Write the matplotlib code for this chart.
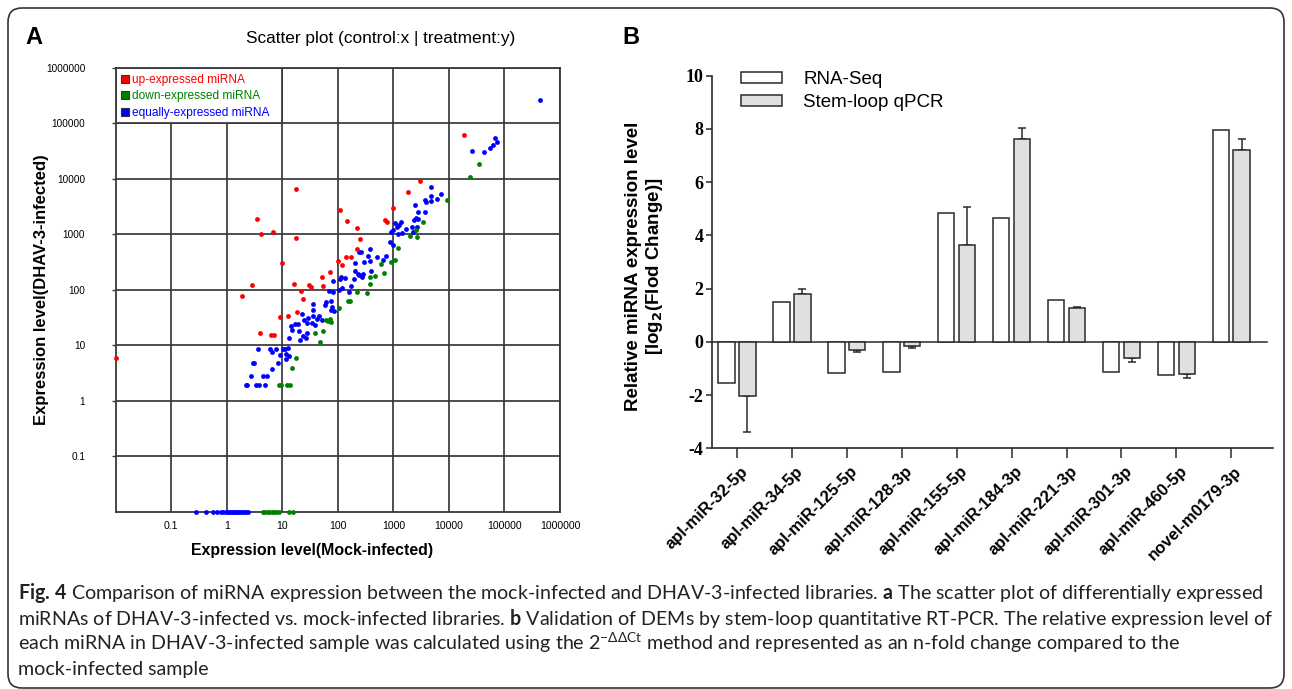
import numpy as np
import matplotlib
matplotlib.use("Agg")
import matplotlib.pyplot as plt
from matplotlib.lines import Line2D
from matplotlib.patches import Rectangle, FancyBboxPatch
from matplotlib.transforms import IdentityTransform, ScaledTranslation
from matplotlib.ticker import NullLocator
from matplotlib import font_manager as fm

# ---------------- data: panel A (scatter, expression levels) ----------------
up_x = [3.5, 4.1, 6.8, 17.6, 17.6, 0, 10,
        2.9, 1.9, 16.4, 18.3, 9.0, 12.6, 4.0, 6.2, 7.2,
        109, 149, 223, 248, 223, 143, 171, 100, 118, 73, 52, 54, 30.5, 33, 21.6, 23.8,
        18600, 2970, 1830, 986, 718, 759]
up_y = [1880, 1030, 1090, 6600, 870, 5.8, 305,
        121, 79, 125, 40, 32, 34, 16.7, 15.3, 15.3,
        2810, 1710, 1320, 836, 545, 397, 392, 336, 281, 208, 169, 118, 120, 112, 97, 68,
        62500, 9330, 5920, 3010, 1810, 1690]

down_x = [61, 66, 73, 76, 54, 38.6, 46.9, 17.9, 14.7, 8.6, 9.3, 12.1, 13.9,
          1230, 1087, 896, 592, 680, 462, 376, 376, 341, 219, 153, 164, 103,
          34600, 23500, 9200, 3460, 2590, 2020, 2660,
          4.4, 4.75, 5.2, 5.8, 6.4, 7.0, 7.7, 8.8, 13.4, 15.8]
down_y = [28.9, 27.7, 29.3, 26.6, 18.3, 16.4, 11.6, 5.8, 3.9, 1.9, 1.9, 1.9, 1.9,
          576, 341, 314, 293, 199, 178, 167, 126, 87, 93, 63, 63, 47.5,
          18300, 10700, 4140, 1643, 1197, 933, 896,
          0, 0, 0, 0, 0, 0, 0, 0, 0, 0]

equal_x = [35.6, 74.8, 84.8, 22.3, 24.8, 29.3, 35.1, 41.4, 46.2, 52.3, 34.1, 38.6, 27.4,
           19.4, 17.1, 14.3, 14.7, 20.2, 28.1, 23.8, 26.2, 21.1, 13.4, 12.8, 11.2, 10.4,
           11.6, 13.4, 11.5, 9.1, 7.6, 6.0, 6.4, 3.6, 8.4, 6.5, 3.1, 3.0, 2.7, 4.4, 5.2,
           2.3, 2.2, 3.3, 3.8, 4.8,
           859, 986, 376, 262, 242, 346, 516, 748, 652, 297, 376, 205, 205, 229, 242, 285,
           277, 403, 115, 109, 135, 82.5, 199, 171, 120, 106, 69.9, 80.2, 158, 74.8, 61.7,
           58.4, 35.1, 76.9,
           26200, 4690, 7080, 4820, 6090, 4820, 3650, 3920, 2480, 2770, 3760, 1057, 1264,
           1393, 1164, 986, 920, 1213, 1452, 1710, 2160, 2260, 2700, 2318, 2520, 2812,
           443000, 43700, 55300, 61700, 68000, 74800,
           0.28, 0.42, 0.56, 0.68, 0.78, 0.87, 0.97, 1.07, 1.15, 1.23, 1.32, 1.41, 1.51,
           1.62, 1.74, 1.86, 2.05, 2.22, 2.45]
equal_y = [42.5, 43.1, 41.4, 36.5, 28.9, 31.0, 33.2, 29.7, 33.2, 28.1, 25.2, 23.5, 25.2,
           24.5, 24.2, 21.9, 19.1, 18.3, 16.7, 14.9, 13.7, 12.5, 13.4, 9.1, 8.6, 8.6,
           7.1, 6.5, 5.7, 6.7, 8.6, 8.7, 7.7, 8.6, 4.8, 3.8, 4.8, 4.8, 2.85, 2.85, 2.85,
           1.9, 1.9, 1.9, 1.9, 1.9,
           728, 643, 538, 475, 475, 408, 386, 408, 346, 323, 332, 305, 219, 196, 186, 191,
           171, 219, 167, 158, 162, 143, 158, 118, 110, 100, 97, 89.6, 89.6, 63.4, 59.2,
           53.8, 56.1, 48.9,
           31800, 7180, 5450, 4890, 4430, 4030, 4140, 3860, 3320, 2550, 2550, 1620, 1471,
           1643, 1336, 1197, 1101, 1028, 1042, 1247, 1340, 1101, 1373, 1808, 1938, 1910,
           262000, 30100, 35600, 40300, 53800, 46200,
           0, 0, 0, 0, 0, 0, 0, 0, 0, 0, 0, 0, 0, 0, 0, 0, 0, 0, 0]

scatter_labels = ["up-expressed miRNA", "down-expressed miRNA", "equally-expressed miRNA"]
log_ticks = [0.1, 1, 10, 100, 1000, 10000, 100000, 1000000]
log_tick_labels = ["0.1", "1", "10", "100", "1000", "10000", "100000", "1000000"]

# ---------------- data: panel B (bars) ----------------
mirnas = ["apl-miR-32-5p", "apl-miR-34-5p", "apl-miR-125-5p", "apl-miR-128-3p",
          "apl-miR-155-5p", "apl-miR-184-3p", "apl-miR-221-3p", "apl-miR-301-3p",
          "apl-miR-460-5p", "novel-m0179-3p"]
rnaseq = [-1.53, 1.50, -1.18, -1.13, 4.85, 4.66, 1.59, -1.13, -1.23, 7.96]
qpcr = [-2.03, 1.79, -0.29, -0.15, 3.64, 7.61, 1.28, -0.62, -1.19, 7.21]
qpcr_err = [1.35, 0.18, 0.08, 0.08, 1.44, 0.44, 0.04, 0.13, 0.16, 0.40]
bar_yticks = [-4, -2, 0, 2, 4, 6, 8, 10]

# ---------------- figure ----------------
W, H = 1292, 689
plt.rcParams['font.family'] = ['Liberation Sans', 'DejaVu Sans']
fig = plt.figure(figsize=(W / 100, H / 100), dpi=100)
fig.patch.set_facecolor('white')


def fx(px):
    return px / W


def fy(py):
    return 1 - py / H


RED, GREEN, BLUE = '#ff0000', '#008000', '#0000ff'
GRIDC = '#383838'

# ---------------- panel A ----------------
axA = fig.add_axes([fx(115.7), fy(511.7), fx(560) - fx(115.7), fy(68) - fy(511.7)])
axA.set_xscale('log')
axA.set_yscale('log')
axA.set_xlim(0.01, 1e6)
axA.set_ylim(0.01, 1e6)
axA.set_xticks(log_ticks)
axA.set_xticklabels(log_tick_labels)
axA.set_yticks(log_ticks)
axA.set_yticklabels(log_tick_labels)
axA.xaxis.set_minor_locator(NullLocator())
axA.yaxis.set_minor_locator(NullLocator())
axA.set_axisbelow(True)
axA.grid(True, color=GRIDC, lw=1.25)
for s in axA.spines.values():
    s.set_color(GRIDC)
    s.set_linewidth(1.3)
axA.tick_params(axis='x', length=0, pad=7, labelsize=7.6)
axA.tick_params(axis='y', length=3, width=1, pad=19, labelsize=7.2, color=GRIDC)

lo = 0.01


def floor(v):
    v = np.asarray(v, dtype=float)
    return np.where(v <= 0, lo, v)


axA.scatter(floor(equal_x), floor(equal_y), s=12, c=BLUE, lw=0, zorder=3, clip_on=False)
axA.scatter(floor(down_x), floor(down_y), s=12, c=GREEN, lw=0, zorder=4, clip_on=False)
axA.scatter(floor(up_x), floor(up_y), s=12, c=RED, lw=0, zorder=5, clip_on=False)

axA.add_patch(Rectangle((0.01, 1e5), 10 - 0.01, 1e6 - 1e5, facecolor='white',
                        edgecolor=GRIDC, lw=1.25, zorder=1))
handles = [Line2D([], [], marker='s', ls='', markersize=6, markerfacecolor=c,
                  markeredgecolor='#333333', markeredgewidth=0.8)
           for c in (RED, GREEN, BLUE)]
axA.legend(handles, scatter_labels, loc='upper left', bbox_to_anchor=(0.004, 0.995),
           frameon=False, fontsize=8.6, handlelength=0.65, handletextpad=0.25,
           labelspacing=0.38, borderpad=0.3, borderaxespad=0,
           labelcolor=[RED, GREEN, BLUE])

fig.text(fx(381), fy(38), 'Scatter plot (control:x | treatment:y)', ha='center',
         va='center', fontsize=12.4)
fig.text(fx(312.5), fy(551), 'Expression level(Mock-infected)', ha='center', va='center',
         fontsize=11.4, fontweight='bold')
fig.text(fx(42), fy(290), 'Expression level(DHAV-3-infected)', ha='center', va='center',
         rotation=90, fontsize=12, fontweight='bold')
fig.text(fx(33.5), fy(37), 'A', ha='center', va='center', fontsize=17, fontweight='bold')
fig.text(fx(631), fy(38), 'B', ha='center', va='center', fontsize=17, fontweight='bold')

# ---------------- panel B ----------------
axB = fig.add_axes([fx(712), fy(448.3), fx(1273) - fx(712), fy(75.7) - fy(448.3)])
x = np.arange(len(mirnas))
EDGE = '#2a2a2a'
bw = 0.30
axB.bar(x - 0.19, rnaseq, bw, color='white', edgecolor=EDGE, lw=1.1, label='RNA-Seq',
        zorder=3)
axB.bar(x + 0.19, qpcr, bw, color='#e0e0e0', edgecolor=EDGE, lw=1.1,
        label='Stem-loop qPCR', zorder=3)
q = np.asarray(qpcr)
e = np.asarray(qpcr_err)
yerr = [np.where(q < 0, e, 0), np.where(q >= 0, e, 0)]
axB.errorbar(x + 0.19, qpcr, yerr=yerr, fmt='none', ecolor=EDGE, elinewidth=1.1,
             capsize=3.2, capthick=1.1, zorder=2)
axB.axhline(0, xmin=0, xmax=(1267 - 712) / (1273 - 712), color=EDGE, lw=1.1, zorder=2)
axB.set_xlim(-0.455, 9.76)
axB.set_ylim(-4, 10)
axB.spines['top'].set_visible(False)
axB.spines['right'].set_visible(False)
for s in ('left', 'bottom'):
    axB.spines[s].set_linewidth(1.2)
    axB.spines[s].set_color(EDGE)
axB.set_yticks(bar_yticks)
axB.set_yticklabels([str(v) for v in bar_yticks], fontfamily='Liberation Serif',
                    fontweight='bold', fontsize=13)
axB.tick_params(axis='y', length=4.5, width=1.1, pad=1.5, color=EDGE)
axB.set_xticks(x)
axB.set_xticklabels(mirnas, rotation=45, ha='right', va='center', rotation_mode='anchor',
                    fontsize=12, fontweight='bold')
axB.tick_params(axis='x', length=7, width=1.1, pad=4, color=EDGE)
shift = ScaledTranslation(6 / 72, -4 / 72, fig.dpi_scale_trans)
for lab in axB.get_xticklabels():
    lab.set_transform(lab.get_transform() + shift)
axB.legend(loc='upper left', bbox_to_anchor=(29 / 561, 1.012), frameon=False, fontsize=13.5,
           handlelength=2.19, handleheight=0.53, handletextpad=1.12, labelspacing=0.33,
           borderpad=0, borderaxespad=0)
fig.text(fx(645), fy(266), 'Relative miRNA expression level\n[log$_\\mathbf{2}$(Flod Change)]',
         rotation=90, ha='center', va='center', fontsize=13.5, fontweight='bold',
         linespacing=1.15, multialignment='center')

# ---------------- caption ----------------
avail = {f.name for f in fm.fontManager.ttflist}
cap_font = next((f for f in ['Liberation Sans Narrow', 'DejaVu Sans Condensed', 'Lato']
                 if f in avail), 'Liberation Sans')
plt.rcParams['mathtext.fontset'] = 'custom'
plt.rcParams['mathtext.rm'] = cap_font
plt.rcParams['mathtext.bf'] = cap_font + ':bold'
plt.rcParams['mathtext.it'] = cap_font + ':italic'

cap_lines = [
    r"$\mathbf{Fig.}\,\mathbf{4}$ Comparison of miRNA expression between the mock-infected and DHAV-3-infected libraries. $\mathbf{a}$ The scatter plot of differentially expressed",
    r"miRNAs of DHAV-3-infected vs. mock-infected libraries. $\mathbf{b}$ Validation of DEMs by stem-loop quantitative RT-PCR. The relative expression level of",
    r"each miRNA in DHAV-3-infected sample was calculated using the 2$^{-\Delta\Delta \mathrm{Ct}}$ method and represented as an n-fold change compared to the",
    r"mock-infected sample",
]
baselines = [599, 624.5, 650, 675.5]
cap_size = 13.0
texts = []
for line, b in zip(cap_lines, baselines):
    t = fig.text(fx(18), fy(b), line, ha='left', va='baseline', fontsize=cap_size,
                 family=cap_font, color='#222222')
    texts.append(t)
fig.canvas.draw()
r = fig.canvas.get_renderer()
w1 = texts[0].get_window_extent(r).width
scale = (1262 - 18) / w1
for t in texts:
    t.set_fontsize(cap_size * scale)

# rounded frame
frame = FancyBboxPatch((8, 1), 1276, 680, boxstyle='round,pad=0,rounding_size=14',
                       transform=IdentityTransform(), facecolor='none',
                       edgecolor='#333333', lw=1.2)
fig.add_artist(frame)

fig.savefig('out.png', dpi=100)
